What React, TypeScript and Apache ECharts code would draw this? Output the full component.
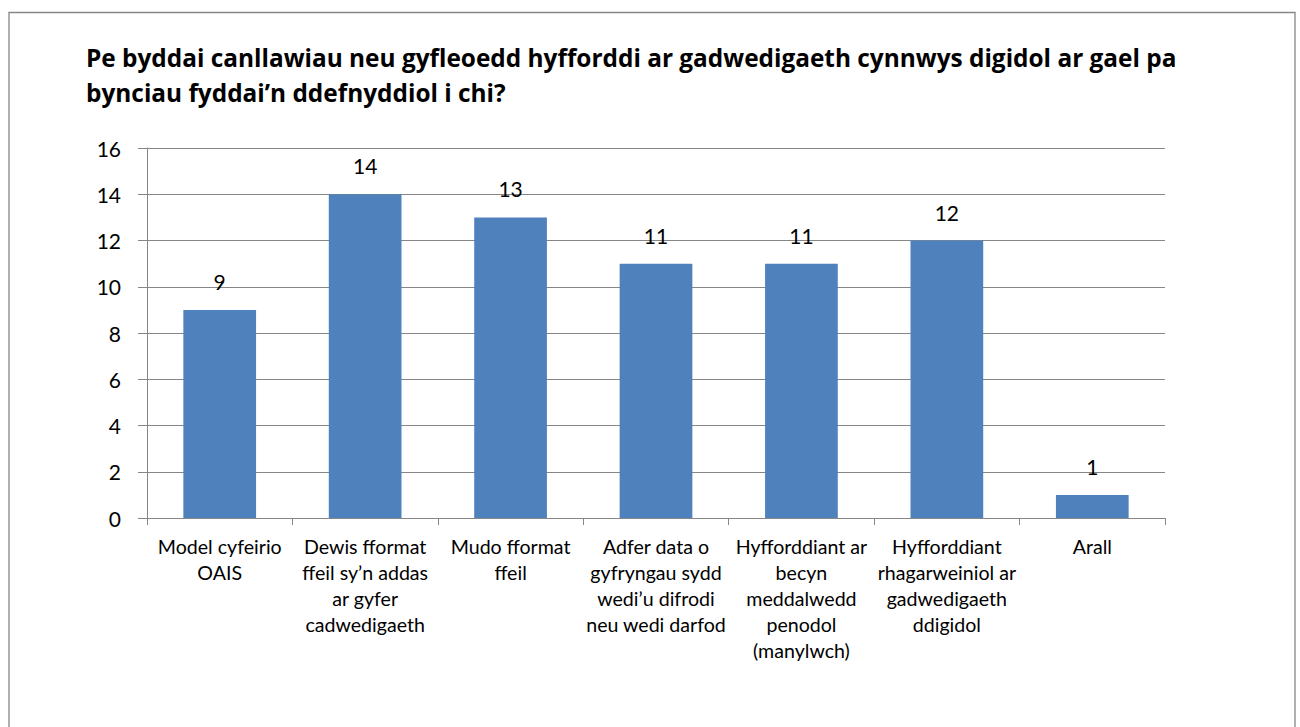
import React, { useEffect, useRef } from "react";
import * as echarts from "echarts";

const titleLines = [
  "Pe byddai canllawiau neu gyfleoedd hyfforddi ar gadwedigaeth cynnwys digidol ar gael pa",
  "bynciau fyddai’n ddefnyddiol i chi?",
];

const categories = [
  "Model cyfeirio\nOAIS",
  "Dewis fformat\nffeil sy’n addas\nar gyfer\ncadwedigaeth",
  "Mudo fformat\nffeil",
  "Adfer data o\ngyfryngau sydd\nwedi’u difrodi\nneu wedi darfod",
  "Hyfforddiant ar\nbecyn\nmeddalwedd\npenodol\n(manylwch)",
  "Hyfforddiant\nrhagarweiniol ar\ngadwedigaeth\nddigidol",
  "Arall",
];

const values = [9, 14, 13, 11, 11, 12, 1];

const yMin = 0;
const yMax = 16;
const yInterval = 2;

const FONT = "Lato, 'Open Sans', sans-serif";
const TITLE_FONT = "'Open Sans', Lato, sans-serif";

export default function App() {
  const ref = useRef<HTMLDivElement>(null);

  useEffect(() => {
    if (!ref.current) return;
    const chart = echarts.init(ref.current, undefined, { renderer: "svg" });
    chart.setOption({
      animation: false,
      backgroundColor: "#ffffff",
      textStyle: { fontFamily: FONT },
      graphic: [
        {
          type: "rect",
          shape: { x: 9, y: 12.5, width: 1286, height: 760 },
          style: { fill: "none", stroke: "#868686", lineWidth: 1.3 },
          silent: true,
        },
      ],
      title: {
        text: titleLines.join("\n"),
        left: 86,
        top: 40,
        padding: 0,
        textStyle: {
          fontFamily: TITLE_FONT,
          fontWeight: "bold",
          fontSize: 24.4,
          lineHeight: 35,
          color: "#000000",
        },
      },
      grid: {
        left: 147,
        right: 135,
        top: 148,
        height: 370,
        containLabel: false,
      },
      xAxis: {
        type: "category",
        data: categories,
        axisLine: { show: true, lineStyle: { color: "#868686", width: 1 } },
        axisTick: {
          show: true,
          length: 7,
          interval: 0,
          lineStyle: { color: "#868686" },
        },
        axisLabel: {
          interval: 0,
          margin: 15,
          fontFamily: FONT,
          fontSize: 19.6,
          lineHeight: 26,
          color: "#000000",
          align: "center",
        },
        splitLine: { show: false },
      },
      yAxis: {
        type: "value",
        min: yMin,
        max: yMax,
        interval: yInterval,
        axisLine: { show: true, lineStyle: { color: "#868686", width: 1 } },
        axisTick: { show: true, length: 9, lineStyle: { color: "#868686" } },
        axisLabel: {
          margin: 26,
          fontFamily: FONT,
          fontSize: 21,
          color: "#000000",
        },
        splitLine: { show: true, lineStyle: { color: "#868686", width: 1 } },
      },
      series: [
        {
          type: "bar",
          data: values,
          barWidth: "50%",
          itemStyle: { color: "#4F81BD" },
          label: {
            show: true,
            position: "top",
            distance: 18,
            fontFamily: FONT,
            fontSize: 21,
            color: "#000000",
          },
        },
      ],
    });
    return () => chart.dispose();
  }, []);

  return (
    <div
      ref={ref}
      style={{ position: "absolute", left: 0, top: 0, width: 1300, height: 727 }}
    />
  );
}
